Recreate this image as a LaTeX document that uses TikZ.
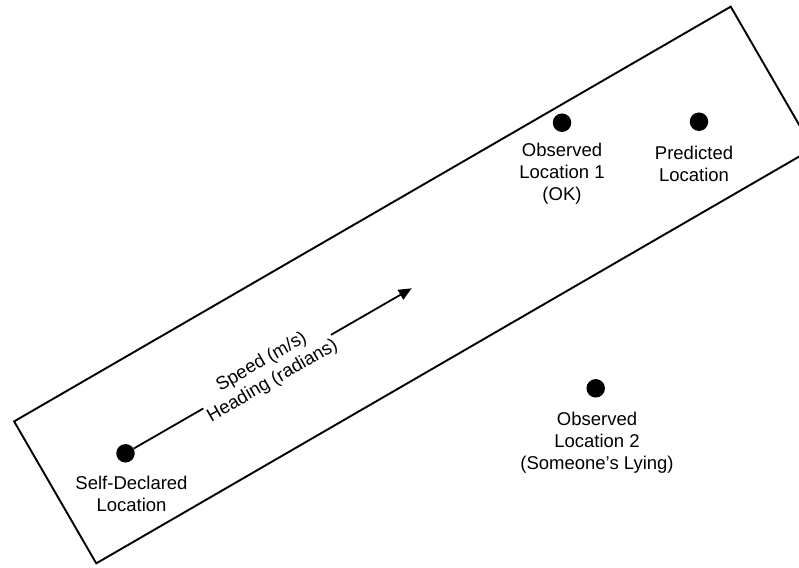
\documentclass[tikz,border=0pt]{standalone}
\usepackage{fontspec}
\setmainfont{Liberation Sans}
\usetikzlibrary{arrows.meta}
\begin{document}
\begin{tikzpicture}[x=1pt,y=-1pt,
  dot/.style={circle,fill=black,inner sep=0pt,minimum size=18.5pt},
  lbl/.style={align=center,font=\fontsize{18.5}{22}\selectfont,inner sep=0pt},
  zone/.style={draw,line width=1.9pt,inner sep=0pt,rotate=30.06,
               minimum width=828pt,minimum height=164pt},
  move/.style={line width=1.8pt,-{Triangle[length=13pt,width=11pt]}}]
\useasboundingbox (0,0) rectangle (799,567);
\clip (0,0) rectangle (799,567);

% corridor around the expected track
\node[zone] (corridor) at (413.5,285) {};

% locations
\node[dot] (self) at (125.5,453.3) {};
\node[dot] (obs1) at (562,122.7) {};
\node[dot] (pred) at (699,121.7) {};
\node[dot] (obs2) at (595.7,388.3) {};

\node[lbl] (selflbl) at (131.5,494) {Self-Declared\\Location};
\node[lbl] (obs1lbl) at (562,174) {Observed\\Location 1\\(OK)};
\node[lbl] (predlbl) at (694,164) {Predicted\\Location};
\node[lbl] (obs2lbl) at (597,443) {Observed\\Location 2\\(Someone’s Lying)};

% motion vector
\coordinate (tip) at (411.7,288.3);
\draw[move] (self) -- (tip)
  node[lbl,pos=0.48,sloped,fill=white] (vec) {Speed (m/s)\\Heading (radians)};
\end{tikzpicture}
\end{document}
